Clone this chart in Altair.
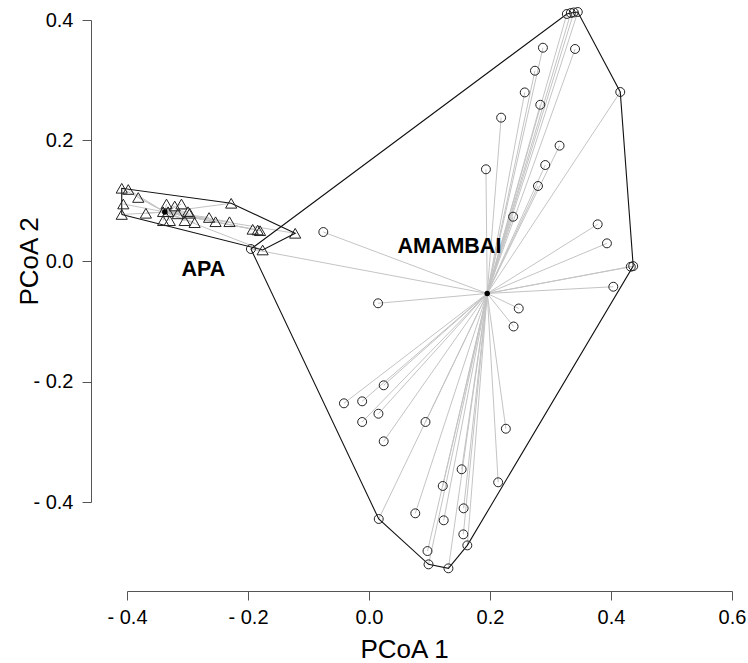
import altair as alt
import pandas as pd

# ---- data ----
amambai_x = [0.327, 0.3336, 0.3385, 0.3451, 0.2875, 0.3406, 0.2743, 0.2574, 0.2831, 0.4153,
             0.2184, 0.315, 0.2913, 0.1933, 0.2793, 0.2382, 0.378, 0.3933, 0.4327, 0.4367,
             0.4038, 0.2475, 0.239, 0.015, -0.0755, -0.1952, 0.0243, -0.0414, -0.0113, 0.0156,
             -0.0113, 0.0934, 0.0243, 0.2262, 0.1531, 0.1219, 0.2135, 0.0161, 0.0765, 0.1235,
             0.1564, 0.1559, 0.1625, 0.0967, 0.0984, 0.1313]
amambai_y = [0.410, 0.4116, 0.4125, 0.4133, 0.354, 0.3519, 0.3158, 0.2798, 0.2593, 0.2805,
             0.2379, 0.1914, 0.1593, 0.1522, 0.1245, 0.0735, 0.0609, 0.0293, -0.0095, -0.0085,
             -0.0427, -0.0788, -0.1087, -0.0702, 0.0481, 0.0199, -0.2063, -0.2362, -0.2329, -0.2535,
             -0.2672, -0.2672, -0.2993, -0.2784, -0.3457, -0.3734, -0.3673, -0.4282, -0.4188, -0.4304,
             -0.4105, -0.4537, -0.472, -0.4814, -0.5035, -0.5101]

apa_x = [-0.4087, -0.3979, -0.3814, -0.4061, -0.4087, -0.3688, -0.3347, -0.3211, -0.31, -0.3403,
         -0.3321, -0.2992, -0.2964, -0.3403, -0.3293, -0.3046, -0.2882, -0.2643, -0.2536, -0.2306,
         -0.2278, -0.1923, -0.184, -0.1801, -0.122, -0.1758, -0.3161]
apa_y = [0.1207, 0.1187, 0.1054, 0.0946, 0.0772, 0.0792, 0.0946, 0.0913, 0.0946, 0.0818,
         0.0818, 0.0818, 0.0792, 0.0669, 0.0669, 0.0669, 0.0636, 0.0722, 0.0652, 0.0652,
         0.0958, 0.0526, 0.0515, 0.0503, 0.046, 0.0183, 0.0783]

group_names = ["AMAMBAI", "APA"]
centroid_x = [0.1954, -0.3375]
centroid_y = [-0.0539, 0.0813]
label_x = [0.1329, -0.2737]
label_y = [0.0232, -0.0149]

x_ticks = [-0.4, -0.2, 0.0, 0.2, 0.4, 0.6]
y_ticks = [-0.4, -0.2, 0.0, 0.2, 0.4]

# ---- derived tables ----
def convex_hull(pts):
    pts = sorted(set(pts))
    if len(pts) <= 2:
        return pts
    def cross(o, a, b):
        return (a[0] - o[0]) * (b[1] - o[1]) - (a[1] - o[1]) * (b[0] - o[0])
    lower, upper = [], []
    for p in pts:
        while len(lower) >= 2 and cross(lower[-2], lower[-1], p) <= 0:
            lower.pop()
        lower.append(p)
    for p in reversed(pts):
        while len(upper) >= 2 and cross(upper[-2], upper[-1], p) <= 0:
            upper.pop()
        upper.append(p)
    return lower[:-1] + upper[:-1]

groups = {"AMAMBAI": (amambai_x, amambai_y), "APA": (apa_x, apa_y)}
pt_rows, spider_rows, hull_rows = [], [], []
for gi, g in enumerate(group_names):
    xs, ys = groups[g]
    cx, cy = centroid_x[gi], centroid_y[gi]
    for xv, yv in zip(xs, ys):
        pt_rows.append({"x": xv, "y": yv, "group": g})
        spider_rows.append({"x": cx, "y": cy, "x2": xv, "y2": yv, "group": g})
    hull = convex_hull(list(zip(xs, ys)))
    hull = hull + [hull[0]]
    for k, (hx, hy) in enumerate(hull):
        hull_rows.append({"x": hx, "y": hy, "group": g, "order": k})

points = pd.DataFrame(pt_rows)
spider = pd.DataFrame(spider_rows)
hulls = pd.DataFrame(hull_rows)
cents = pd.DataFrame({"x": centroid_x, "y": centroid_y, "group": group_names})
labels = pd.DataFrame({"x": label_x, "y": label_y, "group": group_names})

FONT = "Liberation Sans"
x_label_expr = ("datum.value < 0 ? '- ' + format(-datum.value, '.1f') + '\u2007' "
                ": format(datum.value, '.1f')")
y_label_expr = "datum.value < 0 ? '- ' + format(-datum.value, '.1f') : format(datum.value, '.1f')"
xscale = alt.Scale(domain=[-0.4, 0.6], nice=False, zero=False)
yscale = alt.Scale(domain=[-0.4, 0.4], nice=False, zero=False)
xaxis = alt.Axis(values=x_ticks, labelExpr=x_label_expr, title="PCoA 1", offset=89, grid=False,
                 tickSize=9, labelPadding=23, labelBaseline="alphabetic", labelFontSize=20,
                 titleFontSize=26, titleX=277, titleY=66, titleBaseline="alphabetic",
                 labelFlush=False)
yaxis = alt.Axis(values=y_ticks, labelExpr=y_label_expr, title="PCoA 2", offset=36, grid=False,
                 tickSize=9, labelPadding=9, labelFontSize=20, titleFontSize=26,
                 titleX=-54, titleY=241, titleBaseline="alphabetic", titleAngle=-90,
                 labelFlush=False)

def X(f="x"):
    return alt.X(f, type="quantitative", scale=xscale, axis=xaxis)

def Y(f="y"):
    return alt.Y(f, type="quantitative", scale=yscale, axis=yaxis)

spider_layer = alt.Chart(spider).mark_rule(color="#c4c4c4", strokeWidth=1).encode(
    x=X(), y=Y(), x2="x2:Q", y2="y2:Q")

hull_layer = alt.Chart(hulls).mark_line(color="#111111", strokeWidth=1.1).encode(
    x=X(), y=Y(), order="order:Q", detail="group:N")

circ_layer = alt.Chart(points[points.group == "AMAMBAI"]).mark_point(
    shape="circle", filled=False, size=80, stroke="#222222", strokeWidth=1, opacity=1).encode(x=X(), y=Y())

tri_layer = alt.Chart(points[points.group == "APA"]).mark_point(
    shape="triangle-up", filled=False, size=125, stroke="#222222", strokeWidth=1, opacity=1).encode(x=X(), y=Y())

cent_layer = alt.Chart(cents).mark_point(
    shape="circle", filled=True, size=30, color="black", opacity=1).encode(x=X(), y=Y())

text_layer = alt.Chart(labels).mark_text(
    font=FONT, fontSize=21.5, fontWeight="bold", color="black", align="center", baseline="middle"
).encode(x=X(), y=Y(), text="group:N")

chart = alt.layer(spider_layer, hull_layer, circ_layer, tri_layer, cent_layer, text_layer).properties(
    width=605, height=482,
    autosize=alt.AutoSizeParams(type="none"),
    padding={"left": 127, "top": 20, "right": 16, "bottom": 161},
    background="white",
).configure_view(stroke=None).configure_axis(
    domainColor="#555555", tickColor="#555555", labelColor="black", titleColor="black",
    labelFont=FONT, titleFont=FONT, titleFontWeight="normal", domainWidth=1, tickWidth=1
)

chart.save("out.html", embed_options={"renderer": "svg", "actions": False})
